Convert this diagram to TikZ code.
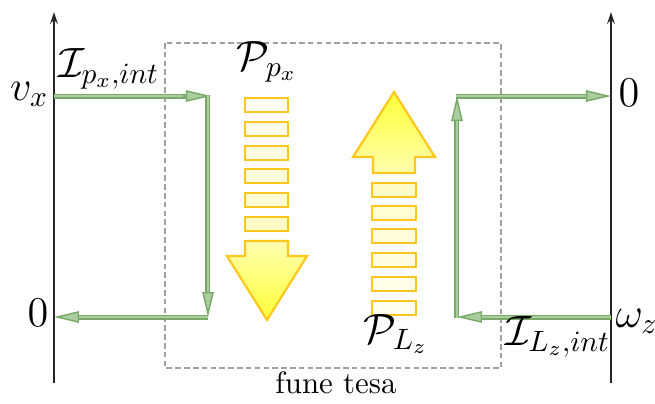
\documentclass[tikz,border=0pt]{standalone}
\usetikzlibrary{arrows.meta}
\definecolor{gline}{RGB}{122,170,104}
\definecolor{gfill}{RGB}{170,206,160}
\definecolor{gold}{RGB}{255,198,30}
\definecolor{ylo}{RGB}{255,255,175}
\definecolor{yhi}{RGB}{255,255,55}
\definecolor{dgray}{RGB}{160,160,160}
\tikzset{
  axis/.style={line width=0.55pt, black!85, -{Stealth[length=4pt,width=2.6pt]}},
  garrow/.style={draw=gline, line width=1.7pt,
     -{Triangle[length=8.5pt,width=3.9pt,fill=gfill,line width=0.5pt]},
     postaction={draw=gfill, line width=0.6pt, shorten >=8.5pt, -}},
  bar/.style={draw=gold, line width=0.8pt},
  bigarrow/.style={draw=gold, line width=0.75pt, line join=miter},
  lbl/.style={inner sep=0pt, font=\Large},
}
\begin{document}
\begin{tikzpicture}[x=0.34pt,y=-0.34pt]
\useasboundingbox (0,0) rectangle (655,403);
% axes
\coordinate (LB) at (54,383); \coordinate (LT) at (54,12);
\coordinate (RB) at (611,383); \coordinate (RT) at (611,12);
\draw[axis] (LB) -- (LT);
\draw[axis] (RB) -- (RT);
% dashed box
\draw[dgray, line width=0.6pt, dash pattern=on 1.9pt off 1.1pt] (165,43) rectangle (501,368);
\node[inner sep=0pt, anchor=base, font=\fontsize{10.5}{12}\selectfont] (fune) at (336,393) {fune tesa};
% corner coordinates
\coordinate (a1) at (54,96); \coordinate (a2) at (208,96);
\coordinate (a3) at (208,317); \coordinate (a4) at (54,317);
\coordinate (b1) at (611,317); \coordinate (b2) at (457,317);
\coordinate (b3) at (457,96); \coordinate (b4) at (611,96);
% green arrows left
\draw[garrow, shorten >=-1pt] (a1) -- (a2);
\draw[garrow] (208,95) -- (a3);
\draw[garrow] (208.5,317) -- (a4);
% green arrows right
\draw[garrow] (b1) -- (b2);
\draw[garrow] (457,317.5) -- (b3);
\draw[garrow] (456.5,96) -- (b4);
% down column bars
\foreach \t/\c in {98/6,122/9,146/12,169/15,193/18,217/22}{
  \draw[bar, fill=yellow!\c!white] (245,\t) rectangle (288,\t+14);
}
\draw[bigarrow, top color=ylo, bottom color=yhi]
  (245,241) -- (288,241) -- (288,256) -- (307,256) -- (267,320) -- (227,256) -- (245,256) -- cycle;
% up column bars
\foreach \t/\c in {183/22,206/18,229/15,253/12,277/9,301/6}{
  \draw[bar, fill=yellow!\c!white] (372,\t) rectangle (416,\t+14);
}
\draw[bigarrow, top color=yhi, bottom color=ylo]
  (394,92) -- (435,157) -- (415,157) -- (415,173) -- (373,173) -- (373,157) -- (353,157) -- cycle;
% labels
\node[lbl, anchor=base east] (vx) at (49,100) {$v_x$};
\node[lbl, anchor=base east] (z1) at (49,326) {$0$};
\node[lbl, anchor=base west] (z2) at (618,106) {$0$};
\node[lbl, anchor=base west] (wz) at (615,327) {$\omega_z$};
\node[lbl, anchor=base west] (Ip) at (58,77) {$\mathcal{I}_{p_x,int}$};
\node[lbl, anchor=base] (Pp) at (267,70) {$\mathcal{P}_{p_x}$};
\node[lbl, anchor=base] (PL) at (396,343) {$\mathcal{P}_{L_z}$};
\node[lbl, anchor=base west] (IL) at (505,345) {$\mathcal{I}_{L_z,int}$};
\end{tikzpicture}
\end{document}
